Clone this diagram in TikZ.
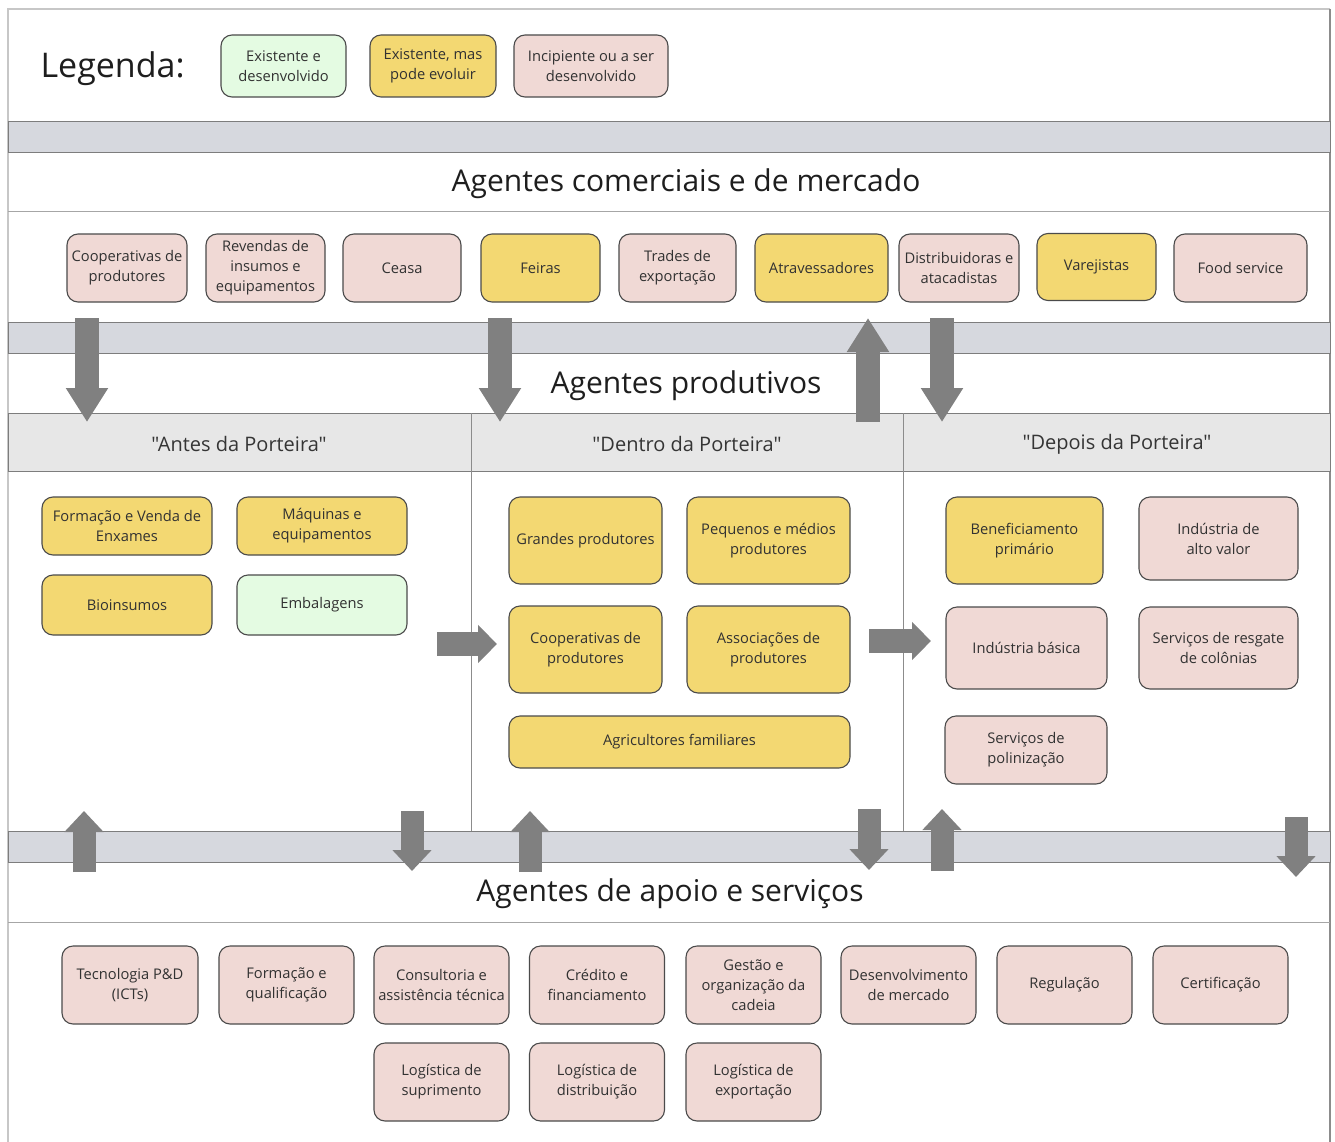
\documentclass[tikz,border=0pt]{standalone}
\usepackage{fontspec}
\setmainfont{Open Sans}
\newfontfamily\plainquotes{Open Sans}[Ligatures=TeXOff]
\usetikzlibrary{arrows.meta}

\definecolor{pinkbox}{RGB}{240,217,213}
\definecolor{yellowbox}{RGB}{243,216,114}
\definecolor{greenbox}{RGB}{228,251,226}
\definecolor{boxline}{RGB}{75,75,75}
\definecolor{bandfill}{RGB}{214,216,222}
\definecolor{bandline}{RGB}{125,125,125}
\definecolor{headfill}{RGB}{231,231,231}
\definecolor{flow}{RGB}{128,128,128}
\definecolor{ink}{RGB}{50,50,50}
\definecolor{titleink}{RGB}{30,30,30}

\begin{document}
\begin{tikzpicture}[x=1pt,y=-1pt,
  agent/.style={draw=boxline, line width=1.1pt, rounded corners=11pt, align=center,
    text=ink, font=\fontsize{14.7}{20}\selectfont, inner sep=1pt},
  pinkagent/.style={agent, fill=pinkbox},
  yellowagent/.style={agent, fill=yellowbox},
  greenagent/.style={agent, fill=greenbox},
  bandtitle/.style={text=titleink, font=\fontsize{30}{34}\selectfont},
  gatetitle/.style={text=titleink!90, font=\plainquotes\fontsize{20}{24}\selectfont},
  band/.style={draw=bandline, line width=0.9pt, fill=bandfill},
  sepline/.style={draw=black!35, line width=1pt},
  divline/.style={draw=black!45, line width=0.9pt},
  bigflow/.style={draw=flow, line width=24pt, -{Triangle[length=34pt,width=40pt]}},
  smallflow/.style={draw=flow, line width=23pt, -{Triangle[length=21pt,width=38pt]}},
  sideflow/.style={draw=flow, line width=24pt, -{Triangle[length=19pt,width=37pt]}}
]
\useasboundingbox (0,0) rectangle (1335,1142);
\fill[white] (0,0) rectangle (1335,1142);

% outer frame
\draw[draw=black!22, line width=1.2pt] (8,1142) -- (8,9) -- (1330,9);
\draw[draw=black!45, line width=1.2pt] (1330,9) -- (1330,1142);

% gray bands and separators
\foreach \yy in {121,322,831} \path[band] (8,\yy) rectangle (1330,\yy+31);
\draw[sepline] (8,211) -- (1330,211);
\draw[sepline] (8,922) -- (1330,922);

% header row of the productive section
\path[band, fill=headfill] (8,413) rectangle (1330,471);
\draw[divline] (471,413) -- (471,831);
\draw[divline] (903,413) -- (903,831);

% legend
\node[text=titleink, font=\fontsize{34}{38}\selectfont, anchor=west] (legtitle) at (37,69) {Legenda:};
\node[greenagent, minimum width=125pt, minimum height=62pt] (legg) at (283.5,66) {Existente e\\desenvolvido};
\node[yellowagent, minimum width=126pt, minimum height=62pt] (legy) at (433,66) {Existente, mas\\pode evoluir};
\node[pinkagent, minimum width=154pt, minimum height=62pt] (legp) at (591,66) {Incipiente ou a ser\\desenvolvido};

% section titles
\node[bandtitle] (tcom) at (686,184) {Agentes comerciais e de mercado};
\node[bandtitle] (tprod) at (686,386) {Agentes produtivos};
\node[bandtitle] (tapoio) at (670,894) {Agentes de apoio e serviços};
\node[gatetitle] (gantes) at (239,444) {"Antes da Porteira"};
\node[gatetitle] (gdentro) at (687,444) {"Dentro da Porteira"};
\node[gatetitle] (gdepois) at (1117,444) {"Depois da Porteira"};

% commercial and market agents
\node[pinkagent, minimum width=120pt, minimum height=68pt] (m1) at (127,268) {Cooperativas de\\produtores};
\node[pinkagent, minimum width=119pt, minimum height=68pt] (m2) at (265.5,268) {Revendas de\\insumos e\\equipamentos};
\node[pinkagent, minimum width=118pt, minimum height=68pt] (m3) at (402,268) {Ceasa};
\node[yellowagent, minimum width=119pt, minimum height=68pt] (m4) at (540.5,268) {Feiras};
\node[pinkagent, minimum width=117pt, minimum height=68pt] (m5) at (677.5,268) {Trades de\\exportação};
\node[yellowagent, minimum width=133pt, minimum height=68pt] (m6) at (821.5,268) {Atravessadores};
\node[pinkagent, minimum width=120pt, minimum height=68pt] (m7) at (959,268) {Distribuidoras e\\atacadistas};
\node[yellowagent, minimum width=119pt, minimum height=67pt] (m8) at (1096.5,267) {Varejistas};
\node[pinkagent, minimum width=133pt, minimum height=68pt] (m9) at (1240.5,268) {Food service};

% before the farm gate
\node[yellowagent, minimum width=170pt, minimum height=58pt] (a1) at (127,526) {Formação e Venda de\\Enxames};
\node[yellowagent, minimum width=170pt, minimum height=58pt] (a2) at (322,526) {Máquinas e\\equipamentos};
\node[yellowagent, minimum width=170pt, minimum height=60pt] (a3) at (127,605) {Bioinsumos};
\node[greenagent, minimum width=170pt, minimum height=60pt] (a4) at (322,605) {Embalagens};

% inside the farm gate
\node[yellowagent, minimum width=153pt, minimum height=87pt] (d1) at (585.5,540.5) {Grandes produtores};
\node[yellowagent, minimum width=163pt, minimum height=87pt] (d2) at (768.5,540.5) {Pequenos e médios\\produtores};
\node[yellowagent, minimum width=153pt, minimum height=87pt] (d3) at (585.5,649.5) {Cooperativas de\\produtores};
\node[yellowagent, minimum width=163pt, minimum height=87pt] (d4) at (768.5,649.5) {Associações de\\produtores};
\node[yellowagent, minimum width=341pt, minimum height=52pt] (d5) at (679.5,742) {Agricultores familiares};

% after the farm gate
\node[yellowagent, minimum width=157pt, minimum height=87pt] (p1) at (1024.5,540.5) {Beneficiamento\\primário};
\node[pinkagent, minimum width=159pt, minimum height=83pt] (p2) at (1218.5,538.5) {Indústria de\\alto valor};
\node[pinkagent, minimum width=161pt, minimum height=82pt] (p3) at (1026.5,648) {Indústria básica};
\node[pinkagent, minimum width=159pt, minimum height=82pt] (p4) at (1218.5,648) {Serviços de resgate\\de colônias};
\node[pinkagent, minimum width=162pt, minimum height=68pt] (p5) at (1026,750) {Serviços de\\polinização};

% support and service agents
\node[pinkagent, minimum width=136pt, minimum height=78pt] (s1) at (130,985) {Tecnologia P\&D\\(ICTs)};
\node[pinkagent, minimum width=135pt, minimum height=78pt] (s2) at (286.5,985) {Formação e\\qualificação};
\node[pinkagent, minimum width=135pt, minimum height=78pt] (s3) at (441.5,985) {Consultoria e\\assistência técnica};
\node[pinkagent, minimum width=135pt, minimum height=78pt] (s4) at (597,985) {Crédito e\\financiamento};
\node[pinkagent, minimum width=135pt, minimum height=78pt] (s5) at (753.5,985) {Gestão e\\organização da\\cadeia};
\node[pinkagent, minimum width=135pt, minimum height=78pt] (s6) at (908.5,985) {Desenvolvimento\\de mercado};
\node[pinkagent, minimum width=135pt, minimum height=78pt] (s7) at (1064.5,985) {Regulação};
\node[pinkagent, minimum width=135pt, minimum height=78pt] (s8) at (1220.5,985) {Certificação};
\node[pinkagent, minimum width=135pt, minimum height=78pt] (s9) at (441.5,1082) {Logística de\\suprimento};
\node[pinkagent, minimum width=135pt, minimum height=78pt] (s10) at (597,1082) {Logística de\\distribuição};
\node[pinkagent, minimum width=135pt, minimum height=78pt] (s11) at (753.5,1082) {Logística de\\exportação};

% flow arrows between market and production
\coordinate (f1a) at (87,318);   \coordinate (f1b) at (87,422);
\coordinate (f2a) at (500,318);  \coordinate (f2b) at (500,422);
\coordinate (f3a) at (868,422);  \coordinate (f3b) at (868,318);
\coordinate (f4a) at (942,318);  \coordinate (f4b) at (942,422);
\draw[bigflow] (f1a) -- (f1b);
\draw[bigflow] (f2a) -- (f2b);
\draw[bigflow] (f3a) -- (f3b);
\draw[bigflow] (f4a) -- (f4b);

% flow arrows along the chain
\coordinate (h1a) at (437,644);  \coordinate (h1b) at (497,644);
\coordinate (h2a) at (869,641);  \coordinate (h2b) at (931,641);
\draw[sideflow] (h1a) -- (h1b);
\draw[sideflow] (h2a) -- (h2b);

% flow arrows between production and support
\coordinate (b1a) at (84,872);   \coordinate (b1b) at (84,811);
\coordinate (b2a) at (412,811);  \coordinate (b2b) at (412,871);
\coordinate (b3a) at (530,872);  \coordinate (b3b) at (530,811);
\coordinate (b4a) at (869,809);  \coordinate (b4b) at (869,870);
\coordinate (b5a) at (942,871);  \coordinate (b5b) at (942,809);
\coordinate (b6a) at (1296,817); \coordinate (b6b) at (1296,877);
\draw[smallflow] (b1a) -- (b1b);
\draw[smallflow] (b2a) -- (b2b);
\draw[smallflow] (b3a) -- (b3b);
\draw[smallflow] (b4a) -- (b4b);
\draw[smallflow] (b5a) -- (b5b);
\draw[smallflow] (b6a) -- (b6b);
\end{tikzpicture}
\end{document}
